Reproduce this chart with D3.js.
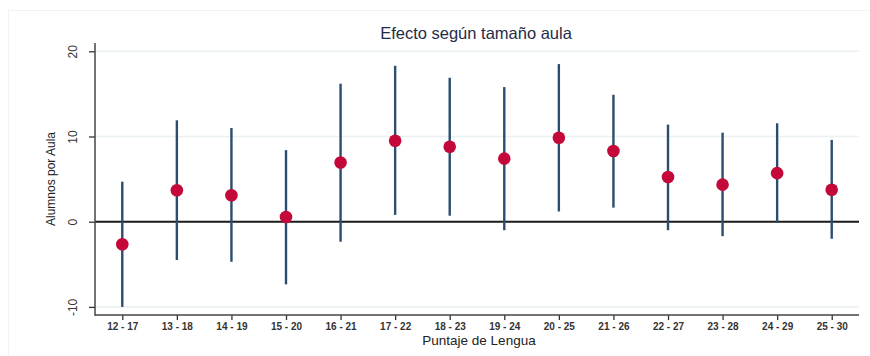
<!DOCTYPE html>
<html>
<head>
<meta charset="utf-8">
<script src="https://cdn.jsdelivr.net/npm/d3@7"></script>
<style>
  html, body { margin: 0; padding: 0; background: #ffffff; }
  svg { display: block; font-family: "Liberation Sans", Arial, sans-serif; }
</style>
</head>
<body>
<svg id="chart" width="870" height="356"></svg>
<script>
// Score bands (Lengua) and the estimated class-size effect with its confidence interval
const categories = ["12 - 17", "13 - 18", "14 - 19", "15 - 20", "16 - 21", "17 - 22", "18 - 23",
                    "19 - 24", "20 - 25", "21 - 26", "22 - 27", "23 - 28", "24 - 29", "25 - 30"];
const estimate = [-2.65, 3.7, 3.1, 0.55, 6.95, 9.5, 8.8, 7.4, 9.85, 8.3, 5.25, 4.35, 5.7, 3.75];
const ciLow    = [-10.0, -4.5, -4.7, -7.35, -2.35, 0.8, 0.7, -1.0, 1.2, 1.65, -1.0, -1.7, -0.1, -2.0];
const ciHigh   = [4.7, 11.9, 11.0, 8.4, 16.2, 18.3, 16.9, 15.8, 18.5, 14.9, 11.4, 10.45, 11.55, 9.6];
const yTicks = [-10, 0, 10, 20];

const svg = d3.select("#chart");
const plotLeft = 95, plotRight = 859, plotTop = 43, plotBottom = 315;

// faint outer frame
svg.append("rect").attr("x", 8.5).attr("y", 10.5).attr("width", 900).attr("height", 400)
  .attr("fill", "none").attr("stroke", "#f1f4f6").attr("stroke-width", 1);

const x = d3.scalePoint().domain(categories).range([plotLeft, plotRight]).padding(0.5);
const y = d3.scaleLinear().domain([0, 20]).range([221.7, 51.3]);

// horizontal grid lines
svg.append("g").selectAll("line").data(yTicks.filter(t => t !== 0)).join("line")
  .attr("x1", plotLeft).attr("x2", plotRight)
  .attr("y1", d => y(d)).attr("y2", d => y(d))
  .attr("stroke", "#eaf1f3").attr("stroke-width", 1.6);

// zero reference line
svg.append("line").attr("x1", plotLeft).attr("x2", plotRight)
  .attr("y1", y(0)).attr("y2", y(0))
  .attr("stroke", "#1a1a1a").attr("stroke-width", 2);

// y axis
const yAxis = svg.append("g").attr("transform", `translate(${plotLeft},0)`)
  .call(d3.axisLeft(y).tickValues(yTicks).tickSize(6).tickSizeOuter(0).tickFormat(d3.format("d")));
yAxis.select(".domain").remove();
yAxis.selectAll(".tick line").attr("stroke", "#333").attr("stroke-width", 1.3);
yAxis.selectAll(".tick text").remove();
yAxis.selectAll(".tick").append("text")
  .attr("transform", "translate(-22,0) rotate(-90)")
  .attr("text-anchor", "middle").attr("dy", "0.35em")
  .attr("fill", "#333").style("font-size", "12px")
  .text(d => d);
svg.append("line").attr("x1", plotLeft).attr("x2", plotLeft).attr("y1", plotTop).attr("y2", plotBottom + 0.7)
  .attr("stroke", "#444").attr("stroke-width", 1.5);

// x axis
const xAxis = svg.append("g").attr("transform", `translate(0,${plotBottom})`)
  .call(d3.axisBottom(x).tickSize(5).tickSizeOuter(0));
xAxis.select(".domain").remove();
xAxis.selectAll(".tick line").attr("stroke", "#333").attr("stroke-width", 1.3);
xAxis.selectAll(".tick text").attr("y", 8).attr("dy", "0.71em")
  .attr("fill", "#333").style("font-size", "10px").style("font-weight", "bold");
svg.append("line").attr("x1", plotLeft).attr("x2", plotRight).attr("y1", plotBottom).attr("y2", plotBottom)
  .attr("stroke", "#444").attr("stroke-width", 1.5);

// confidence intervals
svg.append("g").selectAll("line").data(categories).join("line")
  .attr("x1", d => x(d)).attr("x2", d => x(d))
  .attr("y1", (d, i) => y(ciLow[i])).attr("y2", (d, i) => y(ciHigh[i]))
  .attr("stroke", "#2b4d6f").attr("stroke-width", 2.4);

// point estimates
svg.append("g").selectAll("circle").data(categories).join("circle")
  .attr("cx", d => x(d)).attr("cy", (d, i) => y(estimate[i]))
  .attr("r", 6.3).attr("fill", "#c5083a");

// titles
svg.append("text").attr("x", 476).attr("y", 38.5).attr("text-anchor", "middle")
  .attr("fill", "#1f2d48").style("font-size", "16.5px").text("Efecto según tamaño aula");
svg.append("text").attr("x", 479).attr("y", 345).attr("text-anchor", "middle")
  .attr("fill", "#222").style("font-size", "13.5px").text("Puntaje de Lengua");
svg.append("text").attr("transform", "translate(55,179) rotate(-90)").attr("text-anchor", "middle")
  .attr("fill", "#222").style("font-size", "12px").text("Alumnos por Aula");
</script>
</body>
</html>
